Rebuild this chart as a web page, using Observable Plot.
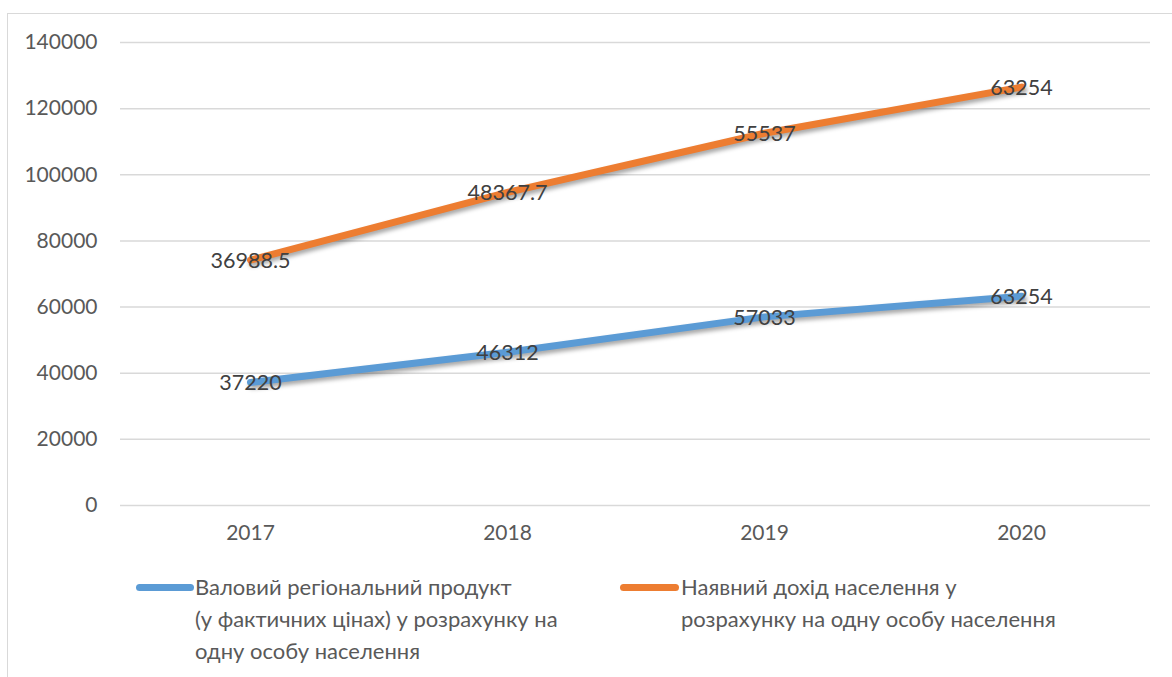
<!DOCTYPE html>
<html>
<head>
<meta charset="utf-8">
<script src="https://cdn.jsdelivr.net/npm/d3@7"></script>
<script src="https://cdn.jsdelivr.net/npm/@observablehq/plot@0.6"></script>
<style>
  html, body { margin: 0; padding: 0; background: #fff; }
  body { width: 1172px; height: 677px; overflow: hidden; position: relative; font-family: Lato, "Open Sans", sans-serif; }
  #frame { position: absolute; left: 7px; top: 13px; width: 1300px; height: 800px; border: 1.5px solid #d9d9d9; box-sizing: border-box; }
  #chart { position: absolute; left: 0; top: 0; }
  #chart svg g[aria-label="line"] { filter: drop-shadow(2px 3px 2px rgba(0,0,0,0.35)); }
  .leg { position: absolute; font-size: 22px; line-height: 32px; color: #595959; white-space: nowrap; }
  .sw { position: absolute; height: 7px; border-radius: 4px; }
</style>
</head>
<body>
<div id="frame"></div>
<div id="chart"></div>
<div id="legend"></div>
<script>
const years = ["2017", "2018", "2019", "2020"];
const seriesNames = [
  "Валовий регіональний продукт (у фактичних цінах) у розрахунку на одну особу населення",
  "Наявний дохід населення у розрахунку на одну особу населення"
];
const legendLines = [
  ["Валовий регіональний продукт", "(у фактичних цінах) у розрахунку на", "одну особу населення"],
  ["Наявний дохід населення у", "розрахунку на одну особу населення"]
];
const grpValues = [37220, 46312, 57033, 63254];
const incomeValues = [36988.5, 48367.7, 55537, 63254];
const colors = ["#5b9bd5", "#ed7d31"];
const yTicks = [0, 20000, 40000, 60000, 80000, 100000, 120000, 140000];

const data = [];
years.forEach((yr, i) => data.push({year: yr, series: seriesNames[0], value: grpValues[i]}));
years.forEach((yr, i) => data.push({year: yr, series: seriesNames[1], value: incomeValues[i]}));

const chart = Plot.plot({
  width: 1172,
  height: 560,
  marginLeft: 120,
  marginRight: 22,
  marginTop: 42,
  marginBottom: 55,
  style: {fontFamily: "Lato, 'Open Sans', sans-serif", fontSize: "21px", background: "transparent", overflow: "visible"},
  x: {type: "point", domain: years, padding: 0.5, label: null},
  y: {domain: [0, 140000], label: null},
  color: {domain: seriesNames, range: colors},
  marks: [
    Plot.gridY(yTicks, {stroke: "#d9d9d9", strokeOpacity: 1, strokeWidth: 1.5}),
    Plot.axisY(yTicks, {tickSize: 0, tickPadding: 23, tickFormat: d => String(d), fill: "#595959", fontSize: 21}),
    Plot.axisX({tickSize: 0, tickPadding: 20, fill: "#595959", fontSize: 21}),
    Plot.lineY(data, Plot.stackY2({x: "year", y: "value", z: "series", stroke: "series", strokeWidth: 7, strokeLinecap: "round", strokeLinejoin: "round"})),
    Plot.text(data, Plot.stackY2({x: "year", y: "value", z: "series", text: d => String(d.value), fill: "#404040", fontSize: 21.5, dy: 1}))
  ]
});
document.getElementById("chart").appendChild(chart);

// legend (HTML below the plot area)
const legend = document.getElementById("legend");
const legPos = [{sx: 136, sw: 58, tx: 195}, {sx: 620, sw: 59, tx: 681}];
legendLines.forEach((lines, i) => {
  const sw = document.createElement("div");
  sw.className = "sw";
  sw.style.left = legPos[i].sx + "px";
  sw.style.width = legPos[i].sw + "px";
  sw.style.top = "584px";
  sw.style.background = colors[i];
  legend.appendChild(sw);
  const t = document.createElement("div");
  t.className = "leg";
  t.style.left = legPos[i].tx + "px";
  t.style.top = "571px";
  t.innerHTML = lines.join("<br>");
  legend.appendChild(t);
});
</script>
</body>
</html>
